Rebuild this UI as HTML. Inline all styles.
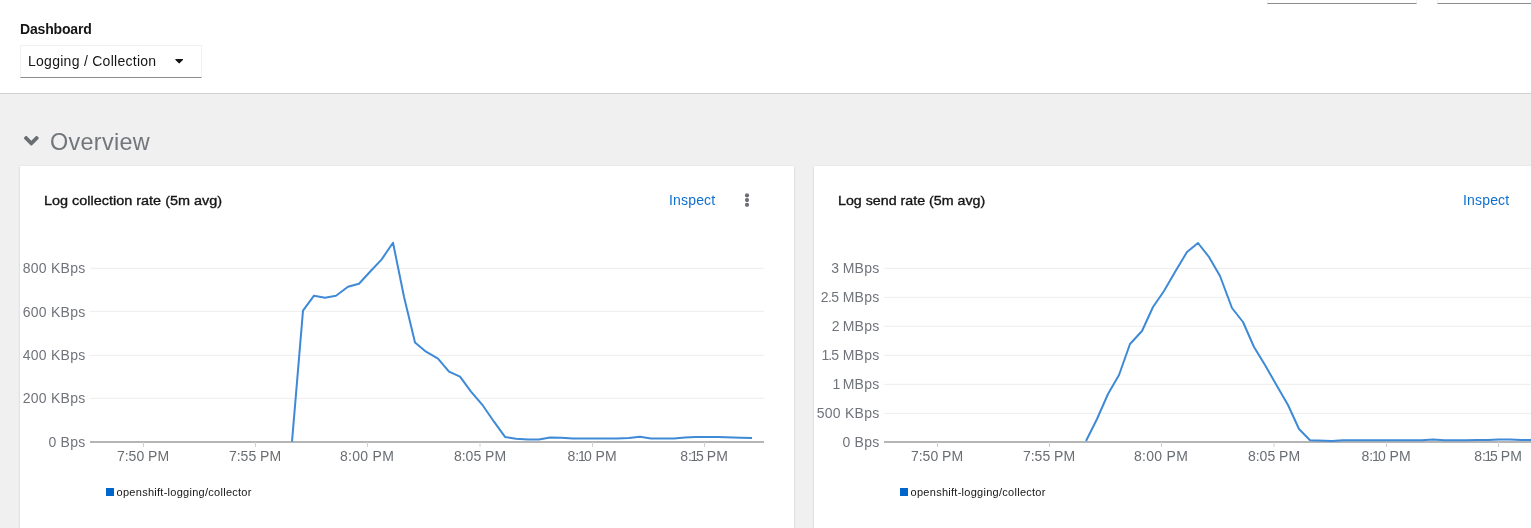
<!DOCTYPE html>
<html>
<head>
<meta charset="utf-8">
<title>Dashboard</title>
<style>
html,body{margin:0;padding:0;}
body{width:1531px;height:528px;overflow:hidden;background:#f0f0f0;font-family:"Liberation Sans",sans-serif;color:#151515;position:relative;}
.abs{position:absolute;white-space:nowrap;}
#header{position:absolute;left:0;top:0;width:1531px;height:93px;background:#fff;border-bottom:1px solid #d2d2d2;}
.topbox{position:absolute;top:-29px;height:33px;background:#fff;border:1px solid #f0f0f0;border-bottom:1px solid #8a8d90;box-sizing:border-box;}
#lbl{left:20px;top:21px;font-size:14px;font-weight:bold;line-height:16px;letter-spacing:-0.17px;}
#dd{position:absolute;left:20px;top:45px;width:182px;height:33px;box-sizing:border-box;border:1px solid #f0f0f0;border-bottom:1px solid #8a8d90;background:#fff;}
#ddt{left:7px;top:7px;font-size:14px;line-height:16px;letter-spacing:0.27px;}
#caret{position:absolute;left:154px;top:13px;width:0;height:0;border-left:4px solid transparent;border-right:4px solid transparent;border-top:5px solid #151515;}
#ov{left:50px;top:128px;font-size:23.4px;line-height:28px;color:#72767b;letter-spacing:0.3px;}
.card{position:absolute;top:166px;height:380px;background:#fff;box-shadow:0 1px 2px rgba(3,3,3,0.12),0 0 2px rgba(3,3,3,0.06);}
.title{font-size:13px;line-height:16px;top:27px;left:24px;color:#151515;letter-spacing:0px;-webkit-text-stroke:0.35px #151515;transform:scaleX(1.11);transform-origin:0 0;}
.inspect{font-size:14px;line-height:16px;top:26px;color:#0f6fcf;letter-spacing:0.17px;}
svg text{font-family:"Liberation Sans",sans-serif;}
</style>
</head>
<body>
<div id="header">
  <div class="topbox" style="left:1267px;width:150px;"></div>
  <div class="topbox" style="left:1437px;width:110px;"></div>
  <div id="lbl" class="abs">Dashboard</div>
  <div id="dd"><div id="ddt" class="abs">Logging / Collection</div><svg class="abs" style="left:153.75px;top:8.1px" width="8.4" height="13.44" viewBox="0 0 320 512"><path fill="#151515" d="M31.3 192h257.3c17.800 0 26.700 21.500 14.100 34.100L174.100 354.800c-7.800 7.800-20.500 7.800-28.300 0L17.200 226.100C4.600 213.500 13.500 192 31.300 192z"/></svg></div>
</div>
<svg class="abs" style="left:24.15px;top:129.1px" width="14.7" height="23.5" viewBox="0 0 320 512"><path fill="#6a6e73" d="M143 352.300L7 216.300c-9.400-9.400-9.400-24.600 0-33.900l22.600-22.600c9.400-9.400 24.600-9.400 33.900 0l96.400 96.400 96.400-96.400c9.400-9.400 24.600-9.400 33.900 0l22.600 22.600c9.400 9.400 9.400 24.600 0 33.900l-136 136c-9.200 9.400-24.400 9.400-33.800 0z"/></svg>
<div id="ov" class="abs">Overview</div>

<div class="card" style="left:20px;width:774px;">
  <div class="title abs">Log collection rate (5m avg)</div>
  <div class="inspect abs" style="left:649px;">Inspect</div>
  <svg class="abs" style="left:724px;top:26px" width="6" height="16" viewBox="0 0 6 16"><circle cx="3" cy="3.4" r="2.1" fill="#6a6e73"/><circle cx="3" cy="8.1" r="2.1" fill="#6a6e73"/><circle cx="3" cy="12.8" r="2.1" fill="#6a6e73"/></svg>
  <svg class="abs" style="left:0;top:54px" width="774" height="300" viewBox="0 0 774 300">
    <g stroke="#ededed" stroke-width="1">
      <line x1="70" x2="744" y1="48.3" y2="48.3"/><line x1="70" x2="744" y1="91.3" y2="91.3"/><line x1="70" x2="744" y1="135.3" y2="135.3"/><line x1="70" x2="744" y1="178.3" y2="178.3"/>
    </g>
    <line x1="70" x2="744" y1="222" y2="222" stroke="#b5b5b5" stroke-width="2"/>
    <g stroke="#d2d2d2" stroke-width="1"><line x1="123.5" x2="123.5" y1="222" y2="227"/><line x1="235.5" x2="235.5" y1="222" y2="227"/><line x1="347.5" x2="347.5" y1="222" y2="227"/><line x1="460" x2="460" y1="222" y2="227"/><line x1="572.5" x2="572.5" y1="222" y2="227"/><line x1="684.5" x2="684.5" y1="222" y2="227"/></g>
    <g font-size="14" fill="#70747a" text-anchor="end" letter-spacing="0.25">
      <text x="65.5" y="53">800 KBps</text><text x="65.5" y="97">600 KBps</text><text x="65.5" y="140">400 KBps</text><text x="65.5" y="183">200 KBps</text><text x="65.5" y="227">0 Bps</text>
    </g>
    <g font-size="14" fill="#6a6e73" text-anchor="middle">
      <text x="123" y="241">7:50 PM</text><text x="235" y="241">7:55 PM</text><text x="347" y="241" letter-spacing="0.3">8:00 PM</text><text x="460" y="241">8:05 PM</text><text x="572" y="241">8:<tspan dx="-1.2">1</tspan><tspan dx="-1.8">0 PM</tspan></text><text x="684" y="241">8:<tspan dx="-1.5">1</tspan><tspan dx="-2.2">5</tspan><tspan dx="-0.8"> PM</tspan></text>
    </g>
    <polyline fill="none" stroke="#3e8ad7" stroke-width="2" stroke-linejoin="round" points="272,221.7 283,90.7 294,75.7 305,77.7 316,75.7 328,66.7 339,63.7 350,51.7 361.5,39.6 373,22.7 384,76.7 395,122.6 406,131.7 418,138.7 429,151.7 440,156.7 451,171.7 463,185.7 474,201.7 485,216.9 496,218.7 508,219.4 519,219.4 530,217.6 541,217.8 553,218.6 575,218.6 597,218.5 609,218 620,216.7 631,218.4 654,218.4 665,217.5 676,217.1 698,217.1 721,217.8 732,218"/>
    <rect x="86" y="268" width="8" height="8" fill="#0066cc"/>
    <text x="96.600" y="276" font-size="11" fill="#151515" letter-spacing="0.27">openshift-logging/collector</text>
  </svg>
</div>

<div class="card" style="left:814px;width:774px;">
  <div class="title abs" style="transform:scaleX(1.095)">Log send rate (5m avg)</div>
  <div class="inspect abs" style="left:649px;">Inspect</div>
  <svg class="abs" style="left:0;top:54px" width="774" height="300" viewBox="0 0 774 300">
    <g stroke="#ededed" stroke-width="1">
      <line x1="70" x2="744" y1="48.3" y2="48.3"/><line x1="70" x2="744" y1="77.3" y2="77.3"/><line x1="70" x2="744" y1="106.3" y2="106.3"/><line x1="70" x2="744" y1="135.3" y2="135.3"/><line x1="70" x2="744" y1="164.3" y2="164.3"/><line x1="70" x2="744" y1="193.3" y2="193.3"/>
    </g>
    <line x1="70" x2="744" y1="222" y2="222" stroke="#b5b5b5" stroke-width="2"/>
    <g stroke="#d2d2d2" stroke-width="1"><line x1="123.5" x2="123.5" y1="222" y2="227"/><line x1="235.5" x2="235.5" y1="222" y2="227"/><line x1="347.5" x2="347.5" y1="222" y2="227"/><line x1="460" x2="460" y1="222" y2="227"/><line x1="572.5" x2="572.5" y1="222" y2="227"/><line x1="684.5" x2="684.5" y1="222" y2="227"/></g>
    <g font-size="14" fill="#70747a" text-anchor="end" letter-spacing="0.25">
      <text x="65.5" y="53">3<tspan dx="-0.8"> MBps</tspan></text><text x="65.5" y="82">2<tspan dx="-0.8">.</tspan><tspan dx="-1">5</tspan><tspan dx="-0.7"> MBps</tspan></text><text x="65.5" y="111">2<tspan dx="-1.2"> MBps</tspan></text><text x="65.5" y="140">1<tspan dx="-1.3">.</tspan><tspan dx="-1.1">5</tspan><tspan dx="-0.7"> MBps</tspan></text><text x="65.5" y="169">1<tspan dx="-2"> MBps</tspan></text><text x="65.5" y="198">500 KBps</text><text x="65.5" y="227">0 Bps</text>
    </g>
    <g font-size="14" fill="#6a6e73" text-anchor="middle">
      <text x="123" y="241">7:50 PM</text><text x="235" y="241">7:55 PM</text><text x="347" y="241" letter-spacing="0.3">8:00 PM</text><text x="460" y="241">8:05 PM</text><text x="572" y="241">8:<tspan dx="-1.2">1</tspan><tspan dx="-1.8">0 PM</tspan></text><text x="684" y="241">8:<tspan dx="-1.5">1</tspan><tspan dx="-2.2">5</tspan><tspan dx="-0.8"> PM</tspan></text>
    </g>
    <polyline fill="none" stroke="#3e8ad7" stroke-width="2" stroke-linejoin="round" points="272,221.0 283,199.0 294,174.0 305,155.0 316,124.0 328,111.0 339,87.0 350,71.0 361,52.0 373,32.0 384,23.0 395,37.0 406,56.0 418,88.0 429,102.0 440,127.0 451,145.0 463,166.0 474,185.0 485,209.0 496,220.2 518,220.9 529,220.2 608,220.2 619,219.5 630,220.2 652,220.2 663,219.9 674,220 685,219.5 696,219.5 707,220 732,220"/>
    <rect x="86" y="268" width="8" height="8" fill="#0066cc"/>
    <text x="96.600" y="276" font-size="11" fill="#151515" letter-spacing="0.27">openshift-logging/collector</text>
  </svg>
</div>
</body>
</html>
